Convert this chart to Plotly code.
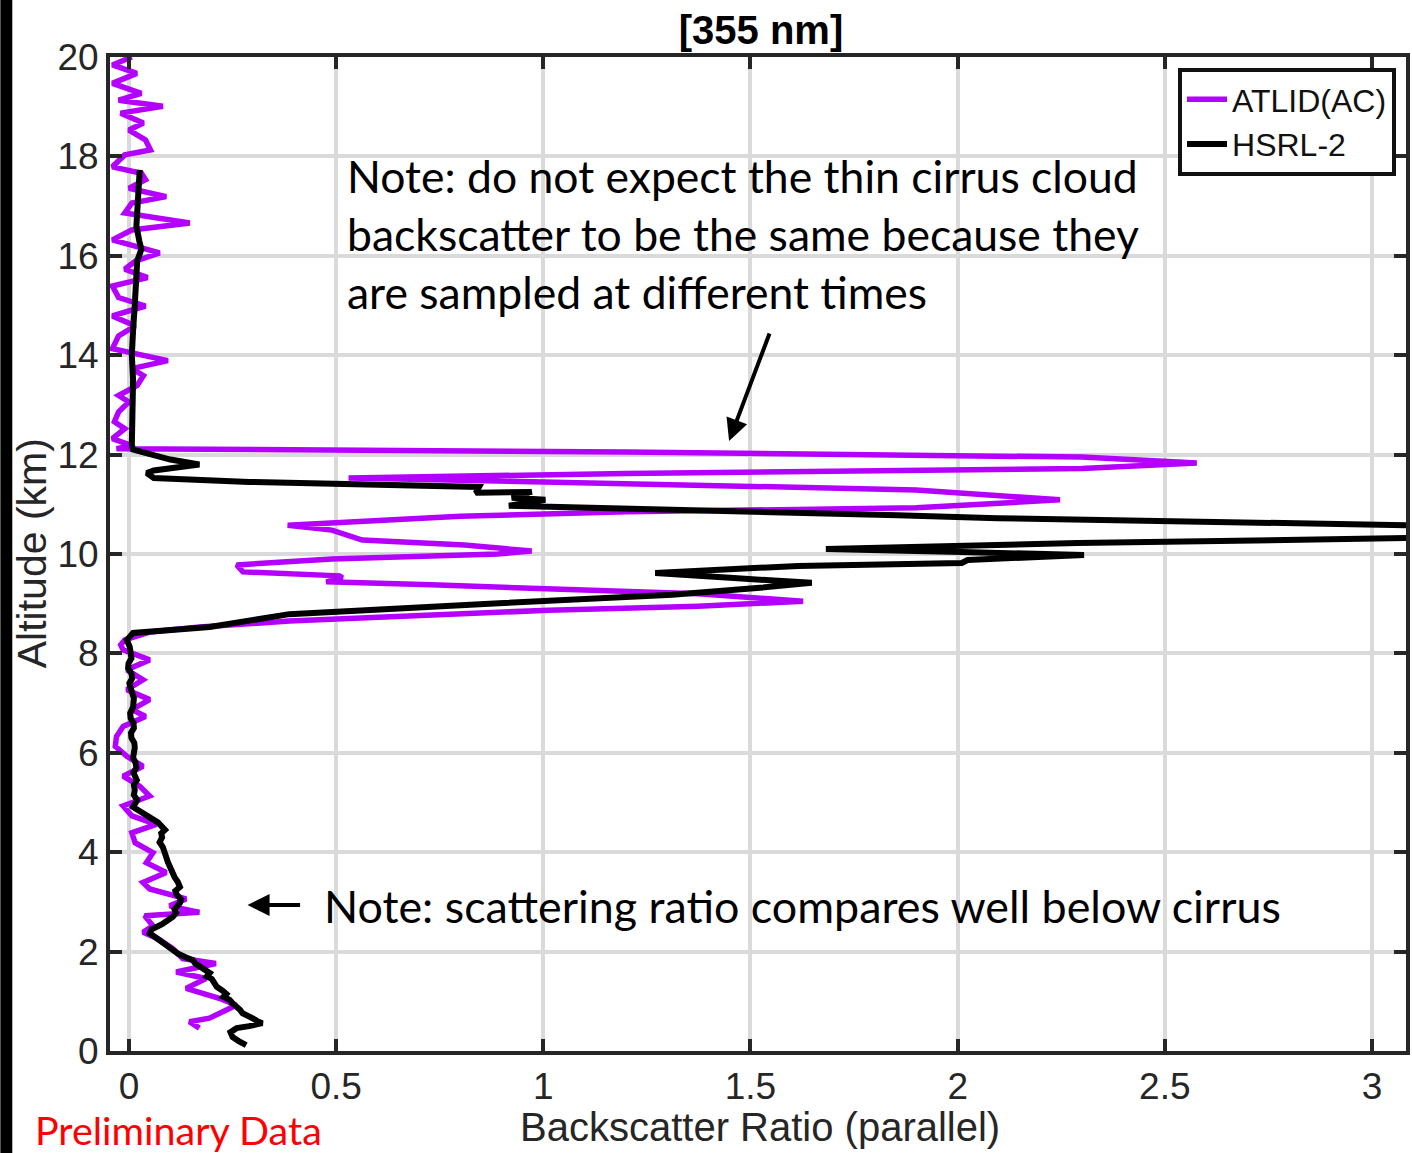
import plotly.graph_objects as go

# ---------------- data ----------------
atlid_alt = [20.0, 19.84, 19.67, 19.47, 19.27, 19.13, 19.01, 18.87, 18.67, 18.53, 18.33, 18.13, 18.03,
             17.79, 17.66, 17.53, 17.36, 17.19, 17.06, 16.86, 16.66, 16.52, 16.32, 16.06, 15.89, 15.73,
             15.56, 15.39, 15.16, 14.99, 14.79, 14.59, 14.39, 14.13, 13.89, 13.73, 13.59, 13.39, 13.19,
             13.06, 12.86, 12.66, 12.52, 12.32, 12.18, 12.12,
             12.05, 11.95, 11.83, 11.72, 11.62, 11.53,
             11.45, 11.29, 11.09, 10.93, 10.85, 10.76, 10.58,
             10.48, 10.28, 10.18, 10.06, 10.0, 9.9, 9.78,
             9.64, 9.56, 9.52, 9.44, 9.38, 9.28, 9.2, 9.05,
             8.95, 8.87, 8.75, 8.65, 8.53, 8.43, 8.27, 8.17,
             8.07, 7.87, 7.67, 7.47, 7.27, 7.07, 6.87, 6.73, 6.53, 6.33, 6.13, 5.93, 5.73, 5.53,
             5.33, 5.13, 4.93, 4.73, 4.56, 4.39, 4.19, 3.99, 3.79, 3.59, 3.39, 3.26, 3.06, 2.92,
             2.79, 2.72, 2.52, 2.39, 2.26, 2.06, 1.86, 1.76, 1.59, 1.46, 1.26, 1.06, 0.92, 0.72,
             0.66, 0.59, 0.46]
atlid_bsr = [0.007, -0.04, 0.019, -0.04, 0.03, -0.025, 0.082, -0.02, 0.035, 0.0, 0.04, 0.052, -0.01,
             -0.04, 0.03, 0.04, 0.0, 0.09, 0.007, -0.01, 0.147, 0.007, -0.04, 0.074, 0.015, -0.01,
             0.045, -0.04, -0.025, 0.04, -0.04, 0.015, -0.025, -0.04, 0.094, 0.007, 0.035, 0.02, -0.025,
             0.0, -0.025, -0.035, -0.01, -0.04, 0.007, -0.03,
             1.2, 2.3, 2.577, 2.3, 1.2, 0.53,
             1.0, 1.9, 2.247, 1.9, 1.2, 0.8, 0.383,
             0.49, 0.563, 0.81, 0.972, 0.89, 0.49, 0.26,
             0.275, 0.508, 0.515, 0.476, 0.73, 1.133, 1.374, 1.627,
             1.374, 1.013, 0.652, 0.387, 0.171, 0.05, -0.01, -0.02,
             -0.014, 0.05, -0.005, 0.034, -0.005, 0.05, 0.007, 0.04, -0.014, -0.03, -0.033, -0.005,
             0.034, -0.014, 0.026, 0.05, -0.014, 0.007, 0.066, 0.007, 0.015, 0.058, 0.042, 0.09,
             0.034, 0.05, 0.138, 0.098, 0.17, 0.038, 0.058, 0.034, 0.07, 0.106, 0.13, 0.21, 0.114,
             0.186, 0.138, 0.218, 0.259, 0.21, 0.194, 0.146, 0.17]

hsrl_alt = [17.73, 17.5, 17.2, 16.99, 16.6, 16.3, 16.13, 15.9, 15.5, 15.0, 14.5, 14.0, 13.5, 13.0,
            12.5, 12.2, 12.1, 12.0, 11.9, 11.8, 11.75, 11.68, 11.63, 11.53, 11.45, 11.35,
            11.23, 11.25, 11.13, 11.09, 10.97, 10.93, 10.78, 10.72, 10.64, 10.58, 10.45,
            10.32, 10.22, 10.1, 10.04, 9.98, 9.88, 9.82, 9.76, 9.62, 9.52, 9.42, 9.32, 9.18,
            9.01, 8.87, 8.79, 8.53, 8.41, 8.27, 8.13,
            7.9, 7.8, 7.7, 7.6, 7.5, 7.4, 7.3, 7.2, 7.1, 6.92, 6.8, 6.7, 6.6, 6.5, 6.4, 6.3, 6.2,
            6.1, 5.9, 5.8, 5.7, 5.6, 5.45, 5.35, 5.25, 5.15, 5.05, 4.91,
            4.8, 4.71, 4.6, 4.45, 4.38, 4.3, 4.2, 4.1, 4.0, 3.9, 3.8, 3.7, 3.6, 3.5, 3.4, 3.3,
            3.22, 3.15, 3.05, 2.98, 2.9, 2.85, 2.78, 2.7, 2.62, 2.55,
            2.45, 2.37, 2.3, 2.25, 2.18, 2.1, 2.02, 1.95, 1.88, 1.83, 1.76, 1.7, 1.63, 1.57, 1.5,
            1.45, 1.37, 1.29, 1.22, 1.15, 1.09, 1.03, 0.96, 0.9, 0.83, 0.76,
            0.7, 0.65, 0.6, 0.56, 0.5, 0.46, 0.38, 0.28, 0.2, 0.12]
hsrl_bsr = [0.026, 0.024, 0.022, 0.022, 0.018, 0.025, 0.03, 0.02, 0.016, 0.014, 0.01, 0.007, 0.01,
            0.008, 0.007, 0.007, 0.01, 0.05, 0.1, 0.17, 0.12, 0.06, 0.043, 0.06, 0.29, 0.845,
            0.837, 0.972, 0.924, 1.005, 0.917, 1.133, 1.855, 2.096, 2.712, 3.085, 3.4,
            3.085, 2.29, 1.682, 2.01, 2.305, 2.024, 2.01, 1.615, 1.27, 1.45, 1.648, 1.523, 1.311,
            0.893, 0.532, 0.387, 0.195, 0.01, -0.005, 0.002,
            0.006, -0.001, -0.002, 0.006, 0.008, 0.001, 0.004, 0.01, 0.012, 0.01, 0.003, 0.004,
            0.011, 0.012, 0.005, 0.006, 0.013,
            0.014, 0.01, 0.016, 0.018, 0.011, 0.019, 0.012, 0.014, 0.012, 0.02, 0.01,
            0.03, 0.05, 0.07, 0.087, 0.078, 0.08, 0.074, 0.082, 0.088, 0.09, 0.094, 0.099, 0.104,
            0.11, 0.118, 0.123,
            0.112, 0.115, 0.126, 0.123, 0.115, 0.11, 0.114, 0.106, 0.092, 0.08,
            0.055, 0.05, 0.062, 0.07, 0.08, 0.091, 0.104, 0.12, 0.138, 0.154, 0.16, 0.17, 0.182,
            0.195, 0.188,
            0.2, 0.206, 0.212, 0.225, 0.235, 0.228, 0.243, 0.25, 0.26, 0.268, 0.274,
            0.285, 0.3, 0.31, 0.322, 0.29, 0.26, 0.245, 0.25, 0.265, 0.283]

x_tick_vals = [0, 0.5, 1, 1.5, 2, 2.5, 3]
x_tick_text = ["0", "0.5", "1", "1.5", "2", "2.5", "3"]
y_tick_vals = [0, 2, 4, 6, 8, 10, 12, 14, 16, 18, 20]
y_tick_text = ["0", "2", "4", "6", "8", "10", "12", "14", "16", "18", "20"]

series_names = ["ATLID(AC)", "HSRL-2"]

note_lines = ["Note: do not expect the thin cirrus cloud",
              "backscatter to be the same because they",
              "are sampled at different times"]
note_low = "Note: scattering ratio compares well below cirrus"

# ---------------- figure ----------------
AX = "#262626"
GRID = "#dadada"
HELV = "Liberation Sans, Arial, sans-serif"
CAL = "Lato, Open Sans, sans-serif"

fig = go.Figure()
fig.add_trace(go.Scatter(x=atlid_bsr, y=atlid_alt, mode="lines", name=series_names[0],
                         line=dict(color="#b400ff", width=5.5)))
fig.add_trace(go.Scatter(x=hsrl_bsr, y=hsrl_alt, mode="lines", name=series_names[1],
                         line=dict(color="#000000", width=6)))

W, H = 1412, 1153
ml, mr, mt, mb = 110, 2, 57, 102
pw, ph = W - ml - mr, H - mt - mb


def px(xp):
    return (xp - ml) / pw


def py(yp):
    return (H - mb - yp) / ph


axis_common = dict(showline=True, linewidth=4, linecolor=AX, mirror="allticks",
                   ticks="inside", ticklen=12, tickwidth=4, tickcolor=AX,
                   showgrid=True, gridcolor=GRID, gridwidth=4, zeroline=False,
                   tickfont=dict(family=HELV, size=37, color=AX))

fig.update_layout(
    width=W, height=H,
    margin=dict(l=ml, r=mr, t=mt, b=mb),
    paper_bgcolor="white", plot_bgcolor="white",
    xaxis=dict(range=[-0.0457, 3.082], tickvals=x_tick_vals, ticktext=x_tick_text, **axis_common),
    yaxis=dict(range=[0, 20], tickvals=y_tick_vals, ticktext=y_tick_text, **axis_common),
    showlegend=True,
    legend=dict(x=px(1400), y=py(68), xanchor="right", yanchor="top",
                bgcolor="white", bordercolor="#111111", borderwidth=4,
                font=dict(family=HELV, size=32, color="#111111"),
                tracegroupgap=0, itemwidth=40),
    title=dict(text="<b>[355 nm]</b>", xref="container", yref="container",
               x=761 / W, y=1 - 30 / H, xanchor="center", yanchor="middle",
               font=dict(family=HELV, size=40, color="#000000")),
)

annotations = []
annotations.append(dict(text="Backscatter Ratio (parallel)", x=px(762), y=py(1127), xref="paper", yref="paper",
                        showarrow=False, xanchor="center", yanchor="middle",
                        font=dict(family=HELV, size=40, color=AX)))
annotations.append(dict(text="Altitude (km)", x=px(32), y=py(553), xref="paper", yref="paper",
                        showarrow=False, xanchor="center", yanchor="middle", textangle=-90,
                        font=dict(family=HELV, size=41, color=AX)))
annotations.append(dict(text="Preliminary Data", x=px(33), y=py(1129), xref="paper", yref="paper",
                        showarrow=False, xanchor="left", yanchor="middle",
                        font=dict(family=CAL, size=39.5, color="#ff0000")))
for line, ypix in zip(note_lines, [175, 233, 291]):
    annotations.append(dict(text=line, x=px(346), y=py(ypix), xref="paper", yref="paper",
                            showarrow=False, xanchor="left", yanchor="middle",
                            font=dict(family=CAL, size=44.5, color="#000000")))
annotations.append(dict(text=note_low, x=px(323), y=py(906), xref="paper", yref="paper",
                        showarrow=False, xanchor="left", yanchor="middle",
                        font=dict(family=CAL, size=44.8, color="#000000")))
# arrows
annotations.append(dict(text="", x=px(731), y=py(441), xref="paper", yref="paper",
                        showarrow=True, ax=772 - 731, ay=332 - 441, arrowhead=2, arrowsize=1.1,
                        arrowwidth=4, arrowcolor="#000000"))
annotations.append(dict(text="", x=px(248), y=py(905), xref="paper", yref="paper",
                        showarrow=True, ax=302 - 248, ay=0, arrowhead=2, arrowsize=1.1,
                        arrowwidth=4, arrowcolor="#000000"))
fig.update_layout(annotations=annotations)

# black strip at far left of the image
fig.add_shape(type="rect", xref="paper", yref="paper", x0=px(0), x1=px(12), y0=py(H + 5), y1=py(-5),
              fillcolor="#000000", line=dict(width=0), layer="above")

fig.write_html("out.html")
